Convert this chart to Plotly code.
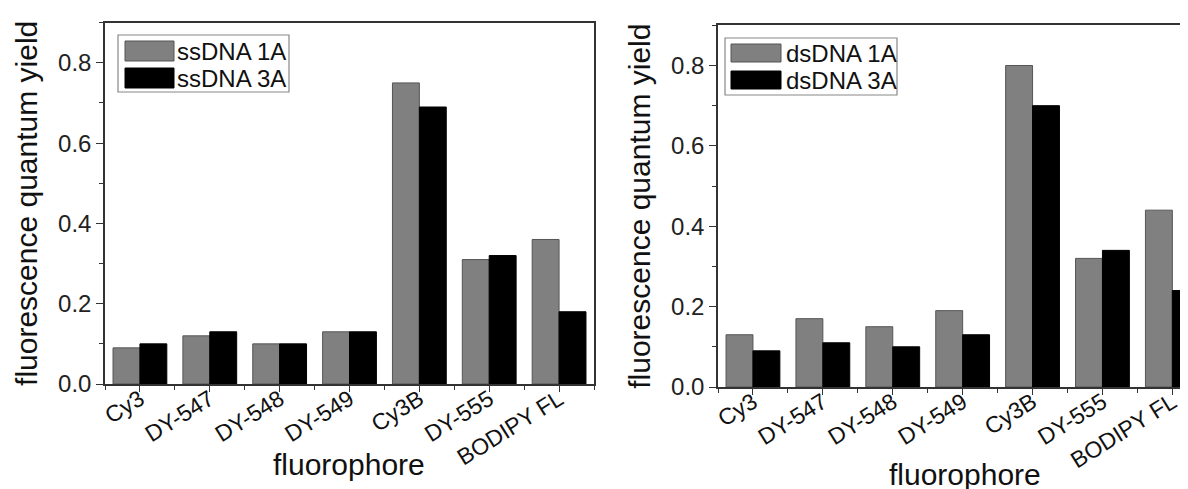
import plotly.graph_objects as go

categories = ["Cy3", "DY-547", "DY-548", "DY-549", "Cy3B", "DY-555", "BODIPY FL"]
ss_1a = [0.09, 0.12, 0.10, 0.13, 0.75, 0.31, 0.36]
ss_3a = [0.10, 0.13, 0.10, 0.13, 0.69, 0.32, 0.18]
ds_1a = [0.13, 0.17, 0.15, 0.19, 0.80, 0.32, 0.44]
ds_3a = [0.09, 0.11, 0.10, 0.13, 0.70, 0.34, 0.24]
names_left = ["ssDNA 1A", "ssDNA 3A"]
names_right = ["dsDNA 1A", "dsDNA 3A"]
y_ticks = [0.0, 0.2, 0.4, 0.6, 0.8]
y_tick_text = ["0.0", "0.2", "0.4", "0.6", "0.8"]
x_title = "fluorophore"
y_title = "fluorescence quantum yield"

W, H = 1188, 489
FONT = "Liberation Sans, Arial, sans-serif"
GRAY = "#808080"
GRAY_EDGE = "#555555"
AXC = "#333333"

xpos = list(range(len(categories)))

fig = go.Figure()
fig.add_trace(go.Bar(x=xpos, y=ss_1a, name=names_left[0], marker=dict(color=GRAY, line=dict(color=GRAY_EDGE, width=1)),
                     xaxis="x", yaxis="y", showlegend=False))
fig.add_trace(go.Bar(x=xpos, y=ss_3a, name=names_left[1], marker=dict(color="#000000", line=dict(color="#000000", width=1)),
                     xaxis="x", yaxis="y", showlegend=False))
fig.add_trace(go.Bar(x=xpos, y=ds_1a, name=names_right[0], marker=dict(color=GRAY, line=dict(color=GRAY_EDGE, width=1)),
                     xaxis="x2", yaxis="y2", showlegend=False))
fig.add_trace(go.Bar(x=xpos, y=ds_3a, name=names_right[1], marker=dict(color="#000000", line=dict(color="#000000", width=1)),
                     xaxis="x2", yaxis="y2", showlegend=False))

def px_x(p):
    return p / W

def px_y(p):
    return 1 - p / H

xcommon = dict(
    tickmode="array", tickvals=xpos, ticktext=categories, tickangle=-32,
    tickfont=dict(family=FONT, size=23, color="#111"), ticklabelstandoff=-15,
    showline=True, linecolor=AXC, linewidth=1.5, ticks="outside", ticklen=6, tickwidth=1.2, tickcolor=AXC,
    minor=dict(tickmode="linear", tick0=0.5, dtick=1, ticks="outside", ticklen=4, tickcolor=AXC, tickwidth=1.2, showgrid=False),
    showgrid=False, zeroline=False, fixedrange=True,
)
ycommon = dict(
    range=[0, 0.9], tickmode="array", tickvals=y_ticks, ticktext=y_tick_text,
    tickfont=dict(family=FONT, size=24, color="#222"),
    showline=True, linecolor=AXC, linewidth=1.5, ticks="outside", ticklen=7, tickwidth=1.2, tickcolor=AXC,
    minor=dict(tickmode="linear", tick0=0, dtick=0.1, ticks="outside", ticklen=4, tickcolor=AXC, tickwidth=1.2, showgrid=False),
    showgrid=False, zeroline=False, fixedrange=True,
    title=dict(text=y_title, font=dict(family=FONT, size=30, color="#111"), standoff=12),
)

fig.update_layout(
    width=W, height=H, margin=dict(l=0, r=0, t=0, b=0, autoexpand=False),
    paper_bgcolor="white", plot_bgcolor="white",
    barmode="group", bargap=0.23, bargroupgap=0,
    xaxis=dict(xcommon, domain=[px_x(97), px_x(586)], range=[-0.5, 6.5], anchor="y", mirror=True, automargin=False),
    yaxis=dict(ycommon, domain=[px_y(376), px_y(14.7)], anchor="x", mirror=True, automargin=False),
    xaxis2=dict(xcommon, domain=[px_x(710), 1.0], range=[-0.5, -0.5 + (1188 - 710) / 69.9], anchor="y2", mirror=True, automargin=False),
    yaxis2=dict(ycommon, domain=[px_y(379), px_y(17.3)], anchor="x2", mirror=False, automargin=False),
)

shapes = []
annotations = []

def add_legend(box, sw1, sw2, tx, names):
    shapes.append(dict(type="rect", xref="paper", yref="paper",
                       x0=px_x(box[0]), x1=px_x(box[2]), y0=px_y(box[3]), y1=px_y(box[1]),
                       line=dict(color="#888888", width=1.2), fillcolor="white"))
    for sw, col, edge, nm in [(sw1, GRAY, GRAY_EDGE, names[0]), (sw2, "#000000", "#000000", names[1])]:
        shapes.append(dict(type="rect", xref="paper", yref="paper",
                           x0=px_x(sw[0]), x1=px_x(sw[2]), y0=px_y(sw[3]), y1=px_y(sw[1]),
                           line=dict(color=edge, width=1), fillcolor=col))
        annotations.append(dict(xref="paper", yref="paper", x=px_x(tx), y=px_y((sw[1] + sw[3]) / 2),
                                text=nm, showarrow=False, xanchor="left", yanchor="middle", borderpad=0,
                                font=dict(family=FONT, size=24, color="#111")))

add_legend((110, 27, 281, 84), (117, 33, 166, 53), (117, 60, 166, 80), 168, names_left)
add_legend((717, 30, 889, 87), (723, 36, 773, 54), (723, 63, 773, 81), 777, names_right)

# x-axis titles (placed like the reference, overlapping the rotated-label band)
annotations.append(dict(xref="paper", yref="paper", x=px_x(341), y=px_y(456), text=x_title, showarrow=False,
                        xanchor="center", yanchor="middle", font=dict(family=FONT, size=30, color="#111")))
annotations.append(dict(xref="paper", yref="paper", x=px_x(957), y=px_y(466), text=x_title, showarrow=False,
                        xanchor="center", yanchor="middle", font=dict(family=FONT, size=30, color="#111")))

fig.update_layout(shapes=shapes, annotations=annotations)

fig.write_html("out.html")
